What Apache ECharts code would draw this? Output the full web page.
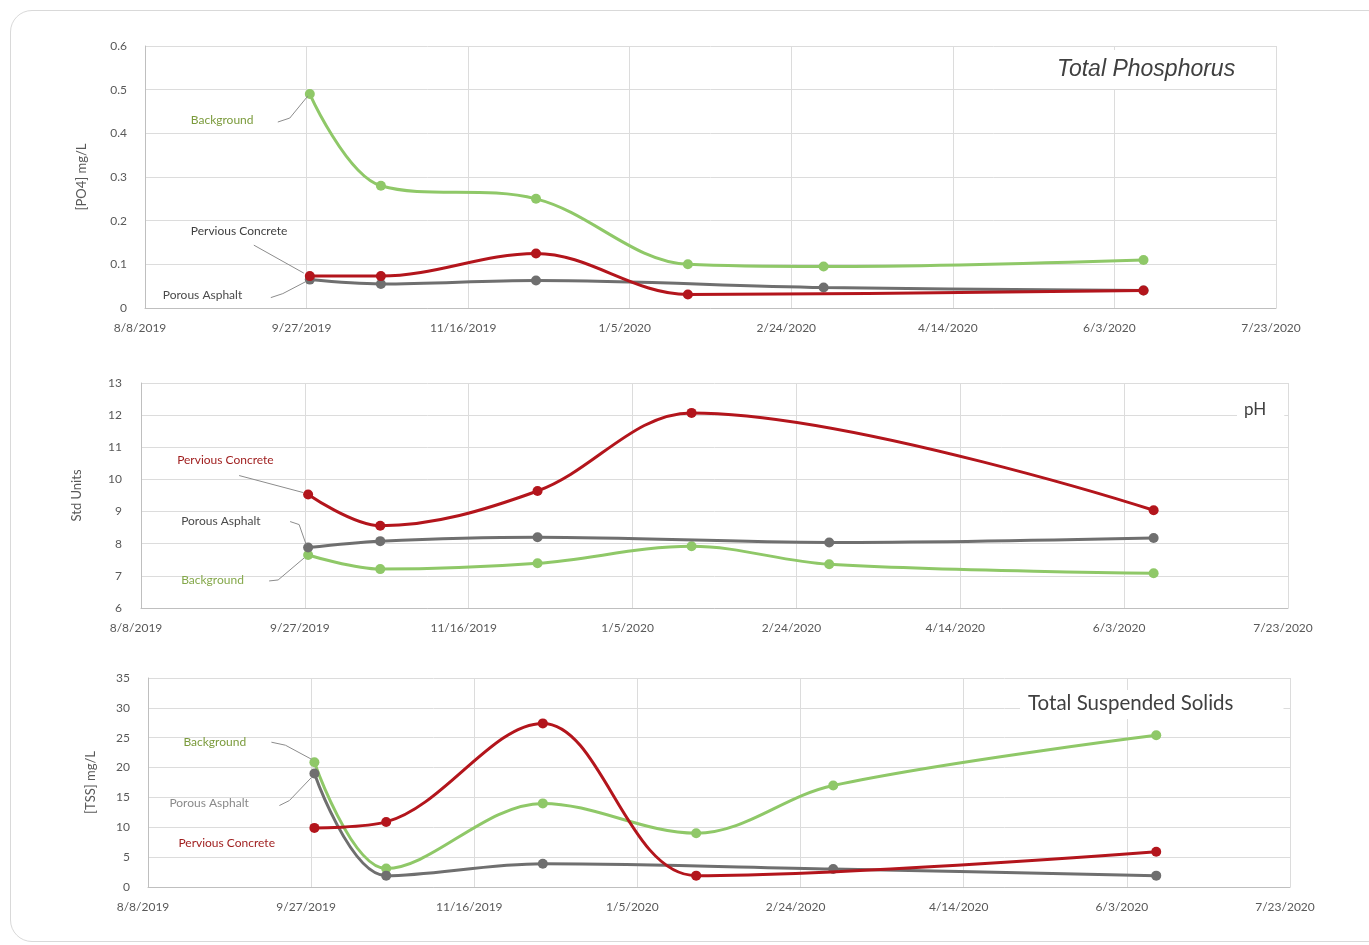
<!DOCTYPE html>
<html>
<head>
<meta charset="utf-8">
<script src="https://cdn.jsdelivr.net/npm/echarts@6/dist/echarts.min.js"></script>
<style>
  html, body { margin: 0; padding: 0; background: #ffffff; }
  #card {
    position: absolute; left: 10px; top: 10px; width: 1380px; height: 932px;
    border: 1.5px solid #d9d9d9; border-radius: 22px; box-sizing: border-box;
  }
  #chart { position: absolute; left: 0; top: 0; width: 1369px; height: 945px; }
</style>
</head>
<body>
<div id="card"></div>
<div id="chart"></div>
<script>
// Sampling dates shared by the three panels
const sampleDates = ['2019-09-28', '2019-10-20', '2019-12-07', '2020-01-23', '2020-03-05', '2020-06-12'];

// Date axis: days counted from 8/8/2019, ticks every 50 days
const axisStartDate = '2019-08-08';
const axisDayMax = 350;
const axisDayStep = 50;

// Total Phosphorus, [PO4] mg/L
const tpBackground = [0.49, 0.28, 0.25, 0.10, 0.095, 0.11];
const tpPervious   = [0.073, 0.073, 0.125, 0.031, null, 0.04];
const tpPorous     = [0.065, 0.055, 0.063, null, 0.047, 0.04];

// pH, Std Units
const phBackground = [7.65, 7.21, 7.39, 7.92, 7.36, 7.08];
const phPervious   = [9.53, 8.56, 9.64, 12.07, null, 9.04];
const phPorous     = [7.88, 8.08, 8.20, null, 8.04, 8.18];

// Total Suspended Solids, [TSS] mg/L
const tssBackground = [20.9, 3.1, 14.0, 9.0, 17.0, 25.4];
const tssPervious   = [9.9, 10.9, 27.4, 1.9, null, 5.9];
const tssPorous     = [19.0, 1.9, 3.9, null, 3.0, 1.9];

// Value axis ranges [min, max, step]
const tpRange  = [0, 0.6, 0.1];
const phRange  = [6, 13, 1];
const tssRange = [0, 35, 5];

const panelTitles = ['Total Phosphorus', 'pH', 'Total Suspended Solids'];
const axisNames = ['[PO4] mg/L', 'Std Units', '[TSS] mg/L'];
const seriesNames = ['Background', 'Porous Asphalt', 'Pervious Concrete'];

const DAY = 86400000;
function dayOffset(iso) {
  const p = iso.split('-').map(Number);
  const s = axisStartDate.split('-').map(Number);
  return Math.round((Date.UTC(p[0], p[1] - 1, p[2]) - Date.UTC(s[0], s[1] - 1, s[2])) / DAY);
}
function dayLabel(d) {
  const s = axisStartDate.split('-').map(Number);
  const t = new Date(Date.UTC(s[0], s[1] - 1, s[2]) + d * DAY);
  return (t.getUTCMonth() + 1) + '/' + t.getUTCDate() + '/' + t.getUTCFullYear();
}
function pairs(values) {
  const out = [];
  values.forEach((v, i) => { if (v !== null) out.push([dayOffset(sampleDates[i]), v]); });
  return out;
}

const GREEN = '#8fc868', GRAY = '#6f6f6f', RED = '#b3151c';
const colors = [GREEN, GRAY, RED];
const FONT = 'Lato, "Open Sans", sans-serif';

const grids = [
  { left: 145, top: 46, width: 1131, height: 262 },
  { left: 141, top: 383, width: 1147, height: 225 },
  { left: 148, top: 678, width: 1142, height: 209 }
];
const ranges = [tpRange, phRange, tssRange];
const nameGaps = [57, 58, 51];
const yLabelMargins = [18, 19, 18];
const panelData = [
  [tpBackground, tpPorous, tpPervious],
  [phBackground, phPorous, phPervious],
  [tssBackground, tssPorous, tssPervious]
];

const xAxes = grids.map((g, i) => ({
  type: 'value', gridIndex: i, min: 0, max: axisDayMax, interval: axisDayStep,
  axisLine: { show: true, lineStyle: { color: '#bfbfbf', width: 1 } },
  axisTick: { show: false },
  axisLabel: { formatter: dayLabel, color: '#595959', fontFamily: FONT, fontSize: 12,
               margin: 14, padding: [0, 10, 0, 0], showMaxLabel: true, showMinLabel: true },
  splitLine: { show: true, lineStyle: { color: '#dcdcdc', width: 1 } }
}));

const yAxes = grids.map((g, i) => ({
  type: 'value', gridIndex: i, min: ranges[i][0], max: ranges[i][1], interval: ranges[i][2],
  name: axisNames[i], nameLocation: 'middle', nameGap: nameGaps[i], nameRotate: 90,
  nameTextStyle: { color: '#595959', fontFamily: FONT, fontSize: 13 },
  axisLine: { show: true, lineStyle: { color: '#bfbfbf', width: 1 } },
  axisTick: { show: false },
  axisLabel: { color: '#595959', fontFamily: FONT, fontSize: 12, margin: yLabelMargins[i] },
  splitLine: { show: true, lineStyle: { color: '#dcdcdc', width: 1 } }
}));

const series = [];
panelData.forEach((group, gi) => {
  group.forEach((vals, si) => {
    series.push({
      name: seriesNames[si] + ' ' + gi,
      type: 'line', xAxisIndex: gi, yAxisIndex: gi,
      data: pairs(vals), smooth: 0.35,
      symbol: 'circle', symbolSize: 10,
      lineStyle: { color: colors[si], width: 3 },
      itemStyle: { color: colors[si] },
      z: 2 + si, animation: false
    });
  });
});

const titles = [
  { text: panelTitles[0], left: 1035, top: 50, padding: [8, 34, 8, 22], backgroundColor: '#ffffff',
    textStyle: { fontFamily: '"Liberation Sans", Arial, sans-serif', fontStyle: 'italic', fontWeight: 'normal',
                 fontSize: 23, color: '#404040' } },
  { text: panelTitles[1], left: 1237, top: 398, padding: [3, 18, 5, 7], backgroundColor: '#ffffff',
    textStyle: { fontFamily: FONT, fontWeight: 'normal', fontSize: 17, color: '#404040' } },
  { text: panelTitles[2], left: 1020, top: 690, padding: [3, 50, 5, 8], backgroundColor: '#ffffff',
    textStyle: { fontFamily: FONT, fontWeight: 'normal', fontSize: 20.5, color: '#404040' } }
];

const chart = echarts.init(document.getElementById('chart'), null, { renderer: 'canvas' });
chart.setOption({
  backgroundColor: 'transparent',
  animation: false,
  title: titles,
  grid: grids,
  xAxis: xAxes,
  yAxis: yAxes,
  series: series
});

// Callout labels with leader lines pointing at the first sample of each series
const callouts = [
  // panel, series index, text, colour, text offset from point [dx,dy], leader points offsets
  [0, 0, 'Background',        '#7b9b3c', [-119, 26], [[-32, 28], [-20, 24], [-2, 2]]],
  [0, 2, 'Pervious Concrete', '#3f3f3f', [-119, -45], [[-56, -31], [-6, -3]]],
  [0, 1, 'Porous Asphalt',    '#4a4a4a', [-147, 16], [[-39, 18], [-27, 14], [-4, 2]]],
  [1, 2, 'Pervious Concrete', '#9e1b1b', [-131, -34], [[-69, -19], [-5, -2]]],
  [1, 1, 'Porous Asphalt',    '#4a4a4a', [-127, -26], [[-18, -26], [-9, -23], [-2, -3]]],
  [1, 0, 'Background',        '#84a84a', [-127, 25], [[-39, 26], [-30, 25], [-4, 3]]],
  [2, 0, 'Background',        '#7b9b3c', [-131, -20], [[-43, -20], [-29, -17], [-3, -3]]],
  [2, 1, 'Porous Asphalt',    '#8a8a8a', [-145, 30], [[-35, 32], [-25, 27], [-3, 4]]],
  [2, 2, 'Pervious Concrete', '#9e1b1b', [-136, 15], null]
];

const graphics = [];
callouts.forEach(c => {
  const first = pairs(panelData[c[0]][c[1]])[0];
  const p = chart.convertToPixel({ xAxisIndex: c[0], yAxisIndex: c[0] }, first);
  graphics.push({
    type: 'text', z: 10,
    style: { text: c[2], x: p[0] + c[4][0], y: p[1] + c[4][1], fill: c[3],
             font: '12px ' + FONT, textVerticalAlign: 'middle', textAlign: 'left' }
  });
  if (c[5]) {
    graphics.push({
      type: 'polyline', z: 9,
      shape: { points: c[5].map(o => [p[0] + o[0], p[1] + o[1]]) },
      style: { stroke: '#8c8c8c', lineWidth: 1, fill: null }
    });
  }
});
chart.setOption({ graphic: graphics });
</script>
</body>
</html>
